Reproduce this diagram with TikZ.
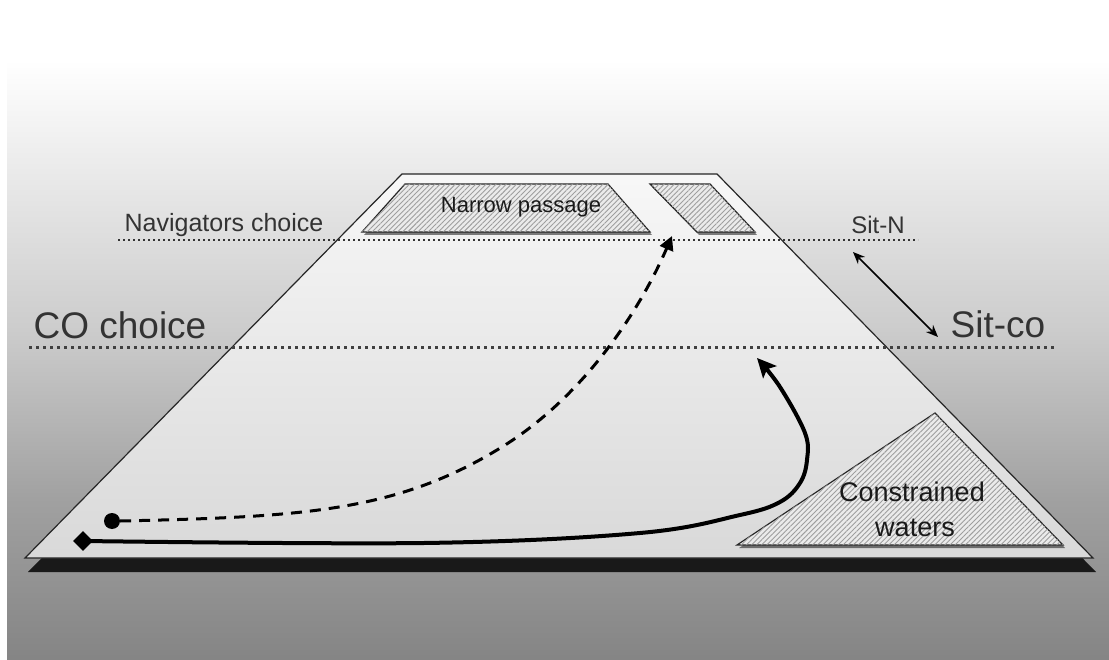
\documentclass[tikz,border=0pt]{standalone}
\usepackage{fontspec}
\setmainfont{Liberation Sans}
\usetikzlibrary{arrows.meta,patterns.meta,shadows,shapes.geometric}
\definecolor{bgD}{gray}{0.52}
\definecolor{bgC}{gray}{0.63}
\definecolor{bgB}{gray}{0.80}
\definecolor{txt}{gray}{0.2}
\pgfdeclareverticalshading{bgshade}{100bp}{color(0bp)=(bgD); color(25bp)=(bgD); color(37.12bp)=(bgC); color(50bp)=(bgB); color(70.45bp)=(white); color(100bp)=(white)}
\tikzset{
  hatchshape/.style={draw=black!85, line width=1.2pt, fill=black!8,
    postaction={pattern={Lines[angle=45,distance=3.6pt,line width=0.9pt]}, pattern color=black!38},
    drop shadow={shadow xshift=2pt, shadow yshift=-3pt, opacity=0.5, fill=black}},
  navline/.style={draw=black!80, line width=2pt, dash pattern=on 2pt off 3pt},
  coline/.style={draw=black!75, line width=3pt, dash pattern=on 3pt off 4pt},
  lbl/.style={text=txt, inner sep=0pt, anchor=base},
}
\begin{document}
\begin{tikzpicture}[x=1pt,y=-1pt]
\useasboundingbox (0,0) rectangle (1109,660);
\fill[white] (0,0) rectangle (1109,660);
\shade[shading=bgshade] (7,0) rectangle (1109,660);
% board shadow
\fill[black!90] (405,188) -- (720,188) -- (1096,572) -- (28,572) -- cycle;
% board
\draw[line width=1.2pt, draw=black!85, top color=black!3, bottom color=black!15]
  (402,174) -- (717,174) -- (1093,558) -- (25,558) -- cycle;
% hatched areas
\path[hatchshape] (405,184) -- (608,184) -- (650,232) -- (362,232) -- cycle;
\path[hatchshape] (650,184) -- (710,184) -- (755,232) -- (697,232) -- cycle;
\path[hatchshape] (935,413) -- (1063,545) -- (737,545) -- cycle;
\node[lbl, text=black!90, font=\fontsize{22}{26}\selectfont] (np) at (521,213) {Narrow passage};
\node[lbl, text=black!90, font=\fontsize{27}{32}\selectfont] (cw1) at (912,501) {Constrained};
\node[lbl, text=black!90, font=\fontsize{27}{32}\selectfont] (cw2) at (915,536) {waters};
% level lines
\coordinate (navL) at (118,240);
\coordinate (navR) at (918,240);
\coordinate (coL) at (29,348);
\coordinate (coR) at (1054,348);
\draw[navline] (navL) -- (navR);
\draw[coline] (coL) -- (coR);
\node[lbl, font=\fontsize{25}{30}\selectfont] (navc) at (224,232) {Navigators choice};
\node[lbl, font=\fontsize{24}{28}\selectfont] (sitn) at (878,234) {Sit-N};
\node[lbl, font=\fontsize{37}{44}\selectfont] (coc) at (120,339) {CO choice};
\node[lbl, font=\fontsize{37}{44}\selectfont] (sitco) at (998,338) {Sit-co};
% double arrow
\coordinate (dA) at (853,252);
\coordinate (dB) at (938,337);
\draw[line width=1.5pt, {Stealth[length=12pt,width=10pt]}-{Stealth[length=12pt,width=10pt]}] (dA) -- (dB);
% start markers
\node[circle, fill=black, minimum size=16pt, inner sep=0pt] (dot) at (112,521) {};
\node[diamond, fill=black, minimum width=20pt, minimum height=20pt, inner sep=0pt] (dia) at (83,541) {};
\coordinate (dashtip) at (672,236);
\coordinate (dashmid) at (497,450);
\coordinate (soltip) at (757,358);
% dashed path
\draw[line width=3pt, dash pattern=on 11pt off 8pt, -{Triangle[length=14pt,width=14pt]}]
  (dot.east) .. controls (300,517) and (394,512) .. (dashmid)
  .. controls (583,399) and (640,310) .. (dashtip);
% solid path
\draw[line width=4pt, -{Stealth[length=19pt,width=18pt,inset=4pt]}]
  plot[smooth, tension=0.6] coordinates {(dia.center) (424,543) (640,533) (740,515) (780,502) (800,483) (807,460) (805,433) (780,387) (soltip)};
\end{tikzpicture}
\end{document}
